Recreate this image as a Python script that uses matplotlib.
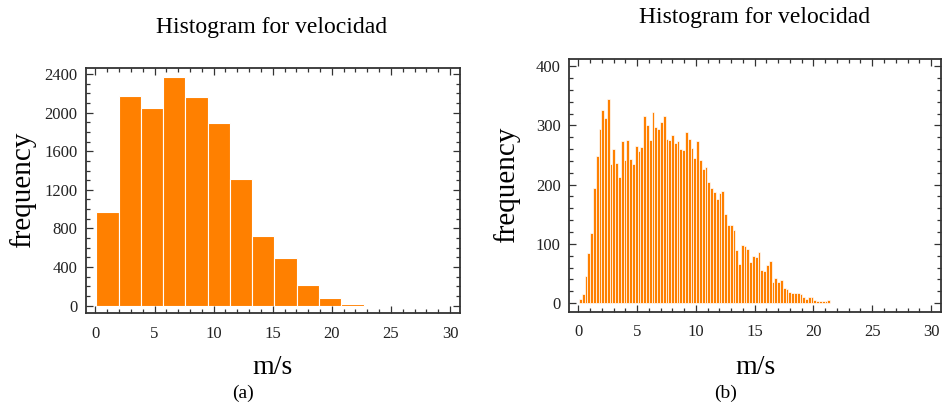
import numpy as np
import matplotlib
matplotlib.use("Agg")
import matplotlib.pyplot as plt
from matplotlib.ticker import MultipleLocator

# panel (a): 12 wide bins
COUNTS_A = [970, 2175, 2048, 2369, 2162, 1892, 1312, 722, 494, 211, 79, 17]
START_A = 0.07
WIDTH_A = 1.885

# panel (b): fine bins
COUNTS_B = [
    7, 15, 46, 84, 119, 194, 249, 294, 326, 312,
    344, 234, 260, 236, 213, 273, 241, 275, 244, 234,
    266, 256, 264, 316, 300, 275, 322, 298, 294, 305,
    316, 277, 275, 283, 271, 273, 260, 259, 288, 277,
    261, 245, 273, 241, 226, 230, 205, 194, 187, 176,
    185, 189, 151, 131, 131, 124, 89, 66, 98, 97,
    92, 69, 80, 77, 86, 56, 54, 65, 71, 36,
    42, 35, 39, 26, 24, 19, 17, 17, 17, 16,
    11, 7, 10, 11, 6, 4, 4, 3, 3, 5,
]
START_B = 0.05
WIDTH_B = 0.2375

TITLE = "Histogram for velocidad"
ORANGE = "#ff8000"
SERIF = ["Liberation Serif", "DejaVu Serif"]


def style_axes(ax, ylim, ymajor, yminor):
    ax.set_xlim(-0.8, 30.85)
    ax.set_ylim(*ylim)
    ax.xaxis.set_major_locator(MultipleLocator(5))
    ax.xaxis.set_minor_locator(MultipleLocator(1))
    ax.yaxis.set_major_locator(MultipleLocator(ymajor))
    ax.yaxis.set_minor_locator(MultipleLocator(yminor))
    ax.tick_params(which="both", direction="in", top=True, right=True,
                   color="#333333", width=0.9)
    ax.tick_params(which="major", length=5)
    ax.tick_params(which="minor", length=3)
    ax.tick_params(axis="y", pad=6)
    ax.tick_params(axis="x", pad=9)
    for sp in ax.spines.values():
        sp.set_linewidth(1.3)
        sp.set_color("#333333")
    for lab in ax.get_xticklabels() + ax.get_yticklabels():
        lab.set_family(SERIF)
        lab.set_fontsize(12)
        lab.set_color("#222222")


fig = plt.figure(figsize=(9.42, 4.07), dpi=100)
W, H = 942, 407

ax_a = fig.add_axes([86 / W, 1 - 313 / H, (460 - 86) / W, (313 - 68) / H])
edges_a = START_A + WIDTH_A * np.arange(len(COUNTS_A))
ax_a.bar(edges_a, COUNTS_A, width=WIDTH_A, align="edge", color=ORANGE,
         edgecolor="white", linewidth=0.8)
style_axes(ax_a, (-76, 2462), 400, 100)

ax_b = fig.add_axes([569 / W, 1 - 312 / H, (941 - 569) / W, (312 - 59) / H])
edges_b = START_B + WIDTH_B * np.arange(len(COUNTS_B))
ax_b.bar(edges_b, COUNTS_B, width=WIDTH_B, align="edge", color=ORANGE,
         edgecolor="white", linewidth=0.5)
style_axes(ax_b, (-15, 412), 100, 20)

for ax, cx, ty, tag in [(ax_a, 272, 27, "(a)"), (ax_b, 755, 18, "(b)")]:
    fig.text(cx / W, 1 - ty / H, TITLE, family=SERIF, fontsize=17,
             ha="center", va="center")
    fig.text(cx / W, 1 - 367 / H, "m/s", family=SERIF, fontsize=20,
             ha="center", va="center")
    fig.text((cx - 29) / W, 1 - 393 / H, tag, family=SERIF, fontsize=14,
             ha="center", va="center")

fig.text(23 / W, 1 - 190 / H, "frequency", family=SERIF, fontsize=21,
         rotation=90, ha="center", va="center")
fig.text((480 + 27) / W, 1 - 185 / H, "frequency", family=SERIF, fontsize=21,
         rotation=90, ha="center", va="center")

fig.savefig("out.png", dpi=100)
